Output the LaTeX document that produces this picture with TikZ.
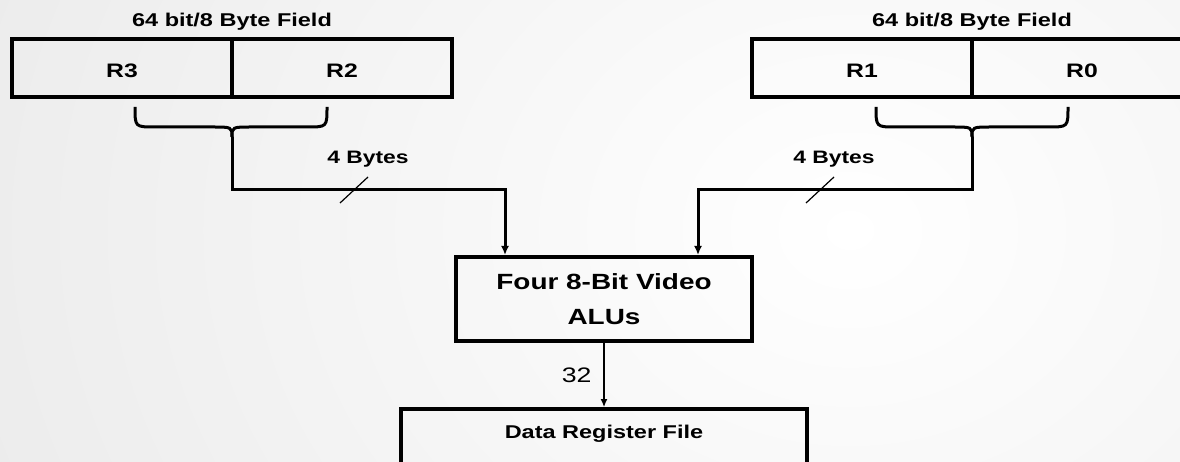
\documentclass[tikz,border=0pt]{standalone}
\usepackage{fontspec}
\setmainfont{Liberation Sans}[FakeStretch=1.27]
\usetikzlibrary{arrows.meta}
\begin{document}
\begin{tikzpicture}[x=1pt,y=-1pt,
    reg/.style={draw,line width=4pt,minimum width=220pt,minimum height=58pt,inner sep=0pt,
      font=\fontsize{19.5}{22}\selectfont\bfseries,text height=20pt,text depth=0pt},
    field/.style={anchor=base,font=\fontsize{18.5}{22}\selectfont\bfseries},
    brace/.style={line width=3pt},
    bus/.style={line width=3pt,-{Latex[length=9pt,width=8pt]}},
    tick/.style={line width=1.2pt}]
  % background
  \clip (0,0) rectangle (1180,462);
  \shade[inner color=white,outer color=black!9] (-250,-670) rectangle (1950,1130);
  % left 8 byte field
  \node[field] (lfield) at (232,27) {64 bit/8 Byte Field};
  \node[reg] (r3) at (122,68) {R3};
  \node[reg] (r2) at (342,68) {R2};
  % right 8 byte field
  \node[field] (rfield) at (972,27) {64 bit/8 Byte Field};
  \node[reg] (r1) at (862,68) {R1};
  \node[reg] (r0) at (1082,68) {R0};
  % ALUs and register file
  \node[draw,line width=4pt,minimum width=296pt,minimum height=84pt,align=center,
    font=\fontsize{22}{35}\selectfont\bfseries] (alu) at (604,299) {Four 8-Bit Video\\ALUs};
  \node[minimum width=406pt,minimum height=46pt,inner sep=0pt,anchor=north,
    font=\fontsize{18.5}{22}\selectfont\bfseries,text height=13pt,text depth=0pt] (drf) at (604,409) {Data Register File};
  \draw[line width=4pt] (drf.north west) rectangle ([yshift=-60pt]drf.south east);
  % braces
  \coordinate (ltip) at (232,137);
  \coordinate (rtip) at (972,137);
  \draw[brace] (135,107) .. controls (135,127) .. (155,127) -- (212,127) .. controls (232,127) .. (ltip);
  \draw[brace] (327,107) .. controls (327,127) .. (307,127) -- (252,127) .. controls (232,127) .. (ltip);
  \draw[brace] (876,107) .. controls (876,127) .. (896,127) -- (952,127) .. controls (972,127) .. (rtip);
  \draw[brace] (1068,107) .. controls (1068,127) .. (1048,127) -- (992,127) .. controls (972,127) .. (rtip);
  % 4 byte buses
  \coordinate (lbend) at (505,190);
  \coordinate (rbend) at (698,190);
  \draw[bus] (ltip) |- (lbend) -- (lbend |- alu.north);
  \draw[bus] (rtip) |- (rbend) -- (rbend |- alu.north);
  \draw[tick] (340,203) -- (368,177);
  \draw[tick] (806,203) -- (834,177);
  \node[field,font=\fontsize{18}{22}\selectfont\bfseries] (lbytes) at (368,164) {4 Bytes};
  \node[field,font=\fontsize{18}{22}\selectfont\bfseries] (rbytes) at (834,164) {4 Bytes};
  % 32 bit result
  \draw[tick,-{Latex[length=8pt,width=7pt]}] (alu.south) -- ([yshift=2pt]drf.north);
  \node[anchor=base east,font=\fontsize{21}{24}\selectfont] (w32) at (595,382) {32};
\end{tikzpicture}
\end{document}
